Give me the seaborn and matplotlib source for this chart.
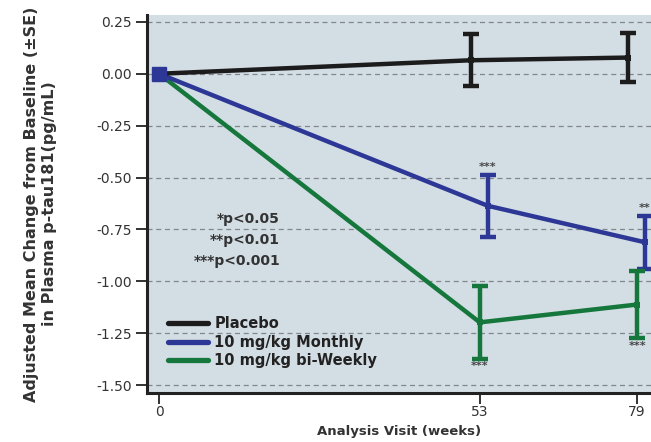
import matplotlib
matplotlib.use("Agg")
import matplotlib.pyplot as plt
import seaborn as sns
import pandas as pd
import numpy as np
from matplotlib.lines import Line2D

# ---- data ----
weeks = [0, 53, 79]
groups = ["Placebo", "10 mg/kg Monthly", "10 mg/kg bi-Weekly"]
placebo_mean = [0.0, 0.065, 0.078]
placebo_se = [0.0, 0.125, 0.117]
monthly_mean = [0.0, -0.636, -0.812]
monthly_se = [0.0, 0.150, 0.128]
biweekly_mean = [0.0, -1.198, -1.112]
biweekly_se = [0.0, 0.175, 0.160]
monthly_sig = ["", "***", "**"]
biweekly_sig = ["", "***", "***"]
pvalue_lines = ["*p<0.05", "**p<0.01", "***p<0.001"]
yticks = [0.25, 0.0, -0.25, -0.5, -0.75, -1.0, -1.25, -1.5]

colors = {"Placebo": "#1c1c1c", "10 mg/kg Monthly": "#2d3896", "10 mg/kg bi-Weekly": "#15773c"}
dodge = {"Placebo": -1.5, "10 mg/kg Monthly": 1.3, "10 mg/kg bi-Weekly": 0.0}

means = {"Placebo": placebo_mean, "10 mg/kg Monthly": monthly_mean, "10 mg/kg bi-Weekly": biweekly_mean}
ses = {"Placebo": placebo_se, "10 mg/kg Monthly": monthly_se, "10 mg/kg bi-Weekly": biweekly_se}

rows = []
for g in groups:
    for i, w in enumerate(weeks):
        xpos = w + (dodge[g] if w != 0 else 0.0)
        rows.append({"group": g, "week": w, "x": xpos, "mean": means[g][i], "se": ses[g][i]})
df = pd.DataFrame(rows)

sns.set_theme(style="white")
plt.rcParams["font.family"] = ["DejaVu Sans"]

fig = plt.figure(figsize=(6.51, 4.42), dpi=100)
ax = fig.add_axes([0.2258, 0.111, 0.7742, 0.855])
ax.set_facecolor("#d3dde4")

for yt in yticks:
    ax.axhline(yt, color="#7f868c", lw=0.9, ls=(0, (4, 3)), zorder=0.5)

sns.lineplot(data=df, x="x", y="mean", hue="group", hue_order=groups[::-1],
             palette=colors, lw=3.2, ax=ax, legend=False, sort=True,
             marker="s", markersize=5, markeredgewidth=0, zorder=3)

for g in groups:
    sub = df[(df["group"] == g) & (df["week"] != 0)]
    ax.errorbar(sub["x"], sub["mean"], yerr=sub["se"], fmt="none",
                ecolor=colors[g], elinewidth=3.2, capsize=6, capthick=3.2, zorder=4)

# blue square at baseline
base = df[(df["group"] == "10 mg/kg Monthly") & (df["week"] == 0)]
ax.plot(base["x"], base["mean"], marker="s", ms=10, color=colors["10 mg/kg Monthly"],
        ls="none", zorder=6)

# significance stars
for i, w in enumerate(weeks):
    if monthly_sig[i]:
        top = monthly_mean[i] + monthly_se[i]
        ax.annotate(monthly_sig[i], (w + dodge["10 mg/kg Monthly"], top), xytext=(0, 2),
                    textcoords="offset points", ha="center", va="bottom",
                    fontsize=8, color="#444444", fontweight="bold")
    if biweekly_sig[i]:
        bot = biweekly_mean[i] - biweekly_se[i]
        ax.annotate(biweekly_sig[i], (w + dodge["10 mg/kg bi-Weekly"], bot), xytext=(0, -2),
                    textcoords="offset points", ha="center", va="top",
                    fontsize=8, color="#444444", fontweight="bold")

# p-value key
for k, t in enumerate(pvalue_lines):
    ax.text(0.264, 0.46 - k * 0.055, t, transform=ax.transAxes, ha="right", va="center",
            fontsize=10, color="#333333", fontweight="bold")

# legend
handles = [Line2D([0], [0], color=colors[g], lw=3.8) for g in groups]
leg = ax.legend(handles, groups, loc="lower left", bbox_to_anchor=(0.025, 0.042),
                frameon=False, handlelength=2.7, handletextpad=0.45,
                labelspacing=0.25, borderaxespad=0.2,
                prop={"weight": "bold", "size": 10.5})
for t in leg.get_texts():
    t.set_color("#222222")

ax.set_xlim(-2.0, 81.3)
ax.set_ylim(-1.538, 0.283)
ax.set_xticks(weeks)
ax.set_xticklabels([str(w) for w in weeks])
ax.set_yticks(yticks)
ax.set_yticklabels([f"{v:.2f}" for v in yticks])
ax.tick_params(axis="both", which="major", bottom=True, left=True, direction="out",
               length=8, width=1.3, color="#222222",
               labelsize=10, labelcolor="#333333", pad=3)
ax.tick_params(axis="x", pad=1)

for s in ["top", "right"]:
    ax.spines[s].set_visible(False)
for s in ["left", "bottom"]:
    ax.spines[s].set_linewidth(2.2)
    ax.spines[s].set_color("#222222")

ax.set_xlabel("Analysis Visit (weeks)", fontsize=9.5, fontweight="bold", color="#333333", labelpad=4)
ax.set_ylabel("Adjusted Mean Change from Baseline (\u00b1SE)\nin Plasma p-tau181(pg/mL)",
              fontsize=11.5, fontweight="bold", color="#333333", labelpad=28,
              linespacing=1.3)

fig.savefig("out.png", dpi=100)
